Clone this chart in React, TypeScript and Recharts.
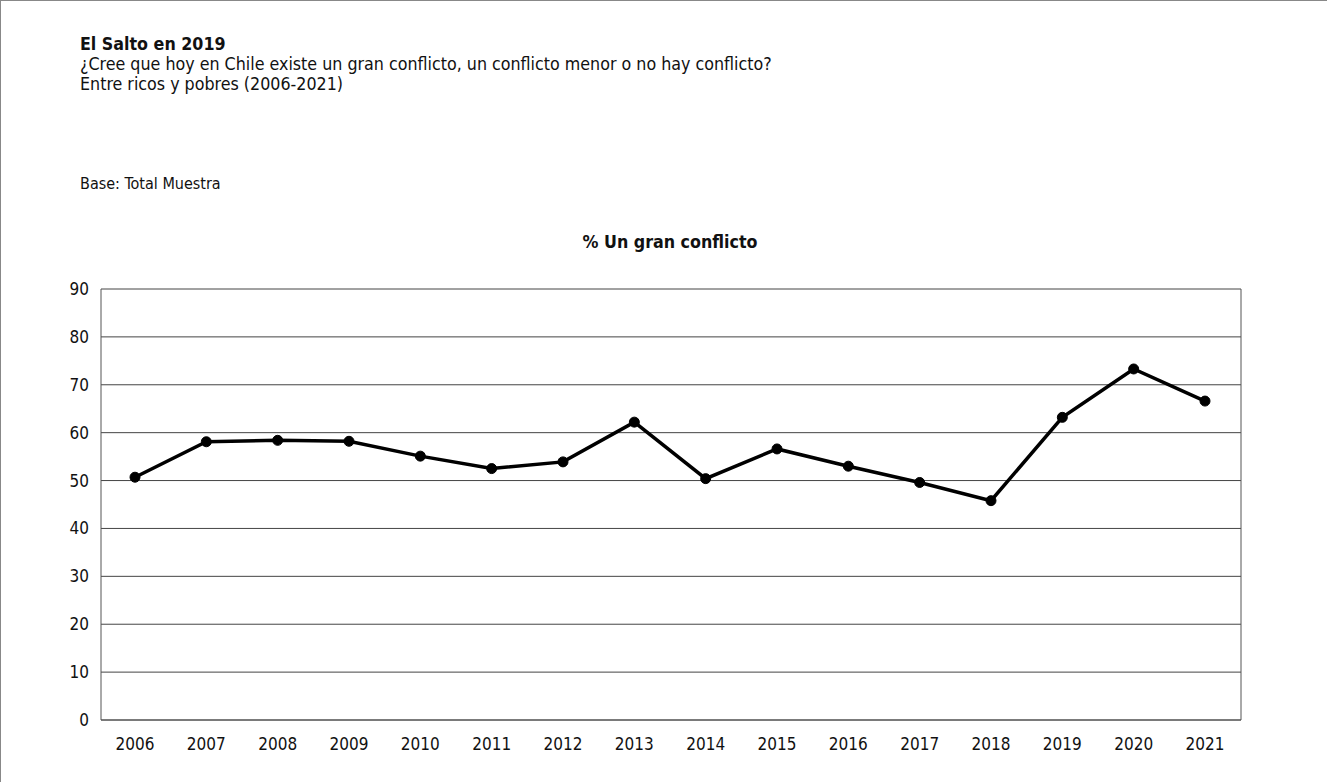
import { LineChart, Line, XAxis, YAxis, CartesianGrid } from 'recharts'

const years = ['2006', '2007', '2008', '2009', '2010', '2011', '2012', '2013',
  '2014', '2015', '2016', '2017', '2018', '2019', '2020', '2021']
const granConflicto = [50.7, 58.1, 58.4, 58.2, 55.1, 52.5, 53.9, 62.2,
  50.4, 56.6, 53.0, 49.6, 45.8, 63.2, 73.3, 66.6]
const yTicks = [0, 10, 20, 30, 40, 50, 60, 70, 80, 90]

const data = years.map((year, i) => ({ year, value: granConflicto[i] }))

const font = '"Liberation Sans Narrow", "DejaVu Sans Condensed", "Roboto", sans-serif'
const tickStyle = { fontSize: 17, fill: '#111', fontFamily: font }

export default function App() {
  return (
    <div style={{
      position: 'absolute', left: 0, top: 0, width: 1327, height: 782,
      background: '#fff', fontFamily: font, color: '#111',
      borderTop: '1px solid #888', borderLeft: '1px solid #888', boxSizing: 'border-box',
    }}>
      <div style={{ position: 'absolute', left: 79, top: 33, fontSize: 17.7, lineHeight: '20px' }}>
        <div style={{ fontWeight: 700 }}>El Salto en 2019</div>
        <div>¿Cree que hoy en Chile existe un gran conflicto, un conflicto menor o no hay conflicto?</div>
        <div>Entre ricos y pobres (2006-2021)</div>
      </div>
      <div style={{ position: 'absolute', left: 79, top: 173, fontSize: 16 }}>Base: Total Muestra</div>
      <div style={{
        position: 'absolute', left: 0, width: 1338, top: 231, textAlign: 'center',
        fontSize: 17.7, fontWeight: 700,
      }}>% Un gran conflicto</div>

      <div style={{ position: 'absolute', left: 0, top: 0 }}>
        <LineChart width={1327} height={782} data={data}
          margin={{ top: 288, right: 86, bottom: 33, left: 60 }}>
          <CartesianGrid yAxisId="left" vertical={false} stroke="#444" strokeWidth={1} />
          <XAxis dataKey="year" tick={tickStyle} tickLine={false} stroke="#555"
            tickSize={6} tickMargin={12} interval={0} padding={{ left: 34, right: 36 }} />
          <YAxis yAxisId="left" domain={[0, 90]} ticks={yTicks} tick={tickStyle}
            tickLine={false} stroke="#555" width={40} tickSize={6} tickMargin={6} />
          <YAxis yAxisId="right" orientation="right" domain={[0, 90]} ticks={yTicks}
            tick={false} tickLine={false} stroke="#555" width={1} />
          <Line yAxisId="left" dataKey="value" stroke="#000" strokeWidth={3.5}
            dot={{ r: 5, fill: '#000', stroke: '#000', strokeWidth: 1 }}
            isAnimationActive={false} />
        </LineChart>
      </div>
    </div>
  )
}
